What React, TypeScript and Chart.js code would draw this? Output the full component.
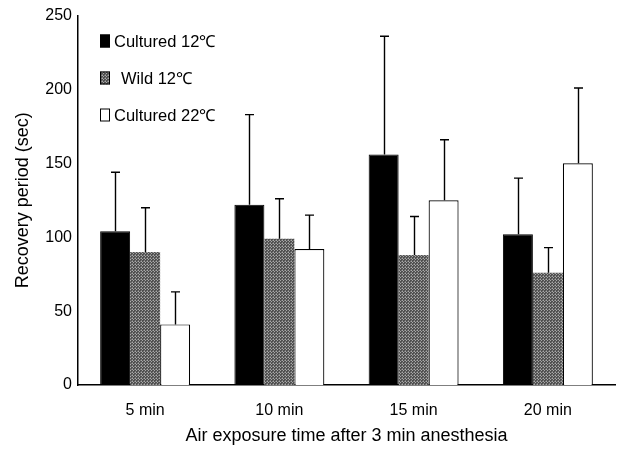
import React, { useEffect, useRef } from "react";
import { Chart, registerables } from "chart.js";

Chart.register(...registerables);

const categories = ["5 min", "10 min", "15 min", "20 min"];
const seriesNames = ["Cultured 12\u2103", "Wild 12\u2103", "Cultured 22\u2103"];
const cultured12 = [104, 122, 156, 102];
const wild12 = [90, 99, 88, 76];
const cultured22 = [41, 92, 125, 150];
const cultured12Err = [40, 61, 80, 38];
const wild12Err = [30, 27, 26, 17];
const cultured22Err = [22, 23, 41, 51];
const yTicks = [0, 50, 100, 150, 200, 250];

const FONT = "'Liberation Sans', Arial, sans-serif";

function makePattern(): CanvasPattern | string {
  const c = document.createElement("canvas");
  c.width = 3;
  c.height = 3;
  const ctx = c.getContext("2d");
  if (!ctx) return "#666";
  ctx.fillStyle = "#505050";
  ctx.fillRect(0, 0, 3, 3);
  ctx.fillStyle = "#a8a8a8";
  ctx.fillRect(1, 1, 1, 1);
  ctx.fillRect(0, 0, 1, 1);
  ctx.fillStyle = "#7a7a7a";
  ctx.fillRect(2, 0, 1, 1);
  ctx.fillRect(0, 2, 1, 1);
  const p = ctx.createPattern(c, "repeat");
  return p || "#666";
}

export default function App() {
  const ref = useRef<HTMLCanvasElement | null>(null);

  useEffect(() => {
    if (!ref.current) return;
    const pattern = makePattern();
    const errs = [cultured12Err, wild12Err, cultured22Err];
    const fills: any[] = ["#000000", pattern, "#ffffff"];
    const borders = ["#000000", "#333333", "#000000"];

    const errorBars = {
      id: "errorBars",
      afterDatasetsDraw(chart: any) {
        const ctx = chart.ctx;
        const y = chart.scales.y;
        ctx.save();
        ctx.strokeStyle = "#000";
        ctx.lineWidth = 1.4;
        chart.data.datasets.forEach((ds: any, di: number) => {
          const meta = chart.getDatasetMeta(di);
          meta.data.forEach((bar: any, i: number) => {
            const v = ds.data[i];
            const top = y.getPixelForValue(v + errs[di][i]);
            const base = y.getPixelForValue(v);
            const x = Math.round(bar.x) + 0.5;
            ctx.beginPath();
            ctx.moveTo(x, base);
            ctx.lineTo(x, top);
            ctx.moveTo(x - 4.5, top);
            ctx.lineTo(x + 4.5, top);
            ctx.stroke();
          });
        });
        ctx.restore();
      },
    };

    const legendInside = {
      id: "legendInside",
      afterDraw(chart: any) {
        const ctx = chart.ctx;
        ctx.save();
        const ys = [41, 78, 115];
        ctx.font = "16.5px " + FONT;
        ctx.textBaseline = "middle";
        ctx.textAlign = "left";
        seriesNames.forEach((name, i) => {
          const cy = ys[i];
          ctx.fillStyle = fills[i];
          ctx.fillRect(100, cy - 6.5, 10, 13);
          ctx.strokeStyle = "#000";
          ctx.lineWidth = 1;
          ctx.strokeRect(100.5, cy - 6, 9, 12);
          ctx.fillStyle = "#000";
          ctx.fillText(name, i === 1 ? 121 : 114, cy + 1);
        });
        ctx.restore();
      },
    };

    const chart = new Chart(ref.current, {
      type: "bar",
      data: {
        labels: categories,
        datasets: [
          { label: seriesNames[0], data: cultured12, backgroundColor: fills[0], borderColor: borders[0], borderWidth: 1 },
          { label: seriesNames[1], data: wild12, backgroundColor: fills[1], borderColor: borders[1], borderWidth: 0 },
          { label: seriesNames[2], data: cultured22, backgroundColor: fills[2], borderColor: borders[2], borderWidth: 1.2 },
        ],
      },
      options: {
        animation: false,
        responsive: true,
        maintainAspectRatio: false,
        layout: { padding: { top: 13, right: 9, left: 0, bottom: 0 } },
        datasets: { bar: { categoryPercentage: 0.67, barPercentage: 1 } },
        plugins: { legend: { display: false }, tooltip: { enabled: false } },
        scales: {
          x: {
            grid: { display: false, drawTicks: false },
            border: { display: true, color: "#000", width: 1.5 },
            ticks: { color: "#000", font: { family: FONT, size: 16 }, padding: 16 },
            title: {
              display: true,
              text: "Air exposure time after 3 min anesthesia",
              color: "#000",
              font: { family: FONT, size: 18 },
              padding: { top: 4, bottom: 3 },
            },
            afterFit(scale: any) {
              scale.height = 65;
            },
          },
          y: {
            min: 0,
            max: 250,
            afterBuildTicks(scale: any) {
              scale.ticks = yTicks.map((v) => ({ value: v }));
            },
            grid: { display: false, drawTicks: false },
            border: { display: true, color: "#000", width: 1.5 },
            ticks: { color: "#000", font: { family: FONT, size: 16 }, padding: 6 },
            title: {
              display: true,
              text: "Recovery period (sec)",
              color: "#000",
              font: { family: FONT, size: 18 },
              padding: { top: 12, bottom: 4 },
            },
            afterFit(scale: any) {
              scale.width = 78;
            },
          },
        },
      },
      plugins: [errorBars, legendInside],
    });
    return () => chart.destroy();
  }, []);

  return (
    <div style={{ position: "fixed", left: 0, top: 0, width: 624, height: 450, background: "#fff" }}>
      <canvas ref={ref} />
    </div>
  );
}
